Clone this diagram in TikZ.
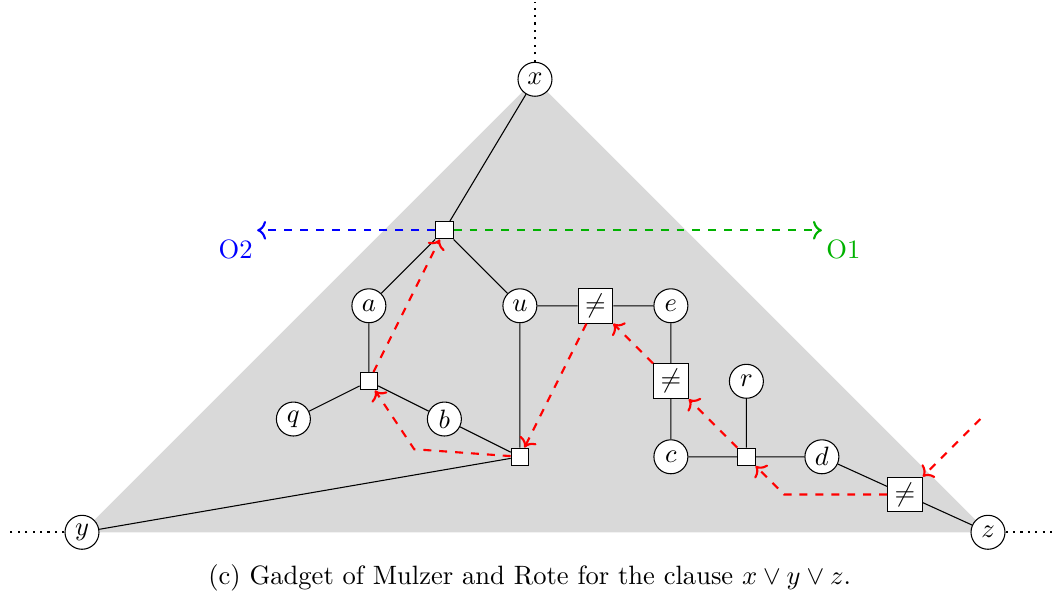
\documentclass[tikz,border=0pt]{standalone}
\usetikzlibrary{arrows.meta}
\begin{document}
\begin{tikzpicture}[
  vtx/.style={circle,draw,fill=white,minimum size=0.45cm,inner sep=0pt},
  sqr/.style={rectangle,draw,fill=white,minimum size=0.23cm,inner sep=0pt},
  neq/.style={rectangle,draw,fill=white,minimum size=0.46cm,inner sep=0pt},
  redarr/.style={red,dashed,thick,->},
  lbl/.style={inner xsep=1.5pt,inner ysep=3.4pt}
]
\useasboundingbox (-1.086,-0.82) rectangle (12.914,7.05);
\fill[gray!30] (6,6) -- (0,0) -- (12,0) -- cycle;
\node[vtx] (x) at (6,6) {$x$};
\node[vtx] (y) at (0,0) {$y$};
\node[vtx] (z) at (12,0) {$z$};
\node[sqr] (t) at (4.8,4) {};
\node[vtx] (a) at (3.8,3) {$a$};
\node[vtx] (u) at (5.8,3) {$u$};
\node[neq] (n1) at (6.8,3) {$\neq$};
\node[vtx] (e) at (7.8,3) {$e$};
\node[sqr] (s2) at (3.8,2) {};
\node[vtx] (q) at (2.8,1.5) {$q$};
\node[vtx] (b) at (4.8,1.5) {$b$};
\node[sqr] (s3) at (5.8,1) {};
\node[neq] (n2) at (7.8,2) {$\neq$};
\node[vtx] (r) at (8.8,2) {$r$};
\node[vtx] (c) at (7.8,1) {$c$};
\node[sqr] (s4) at (8.8,1) {};
\node[vtx] (d) at (9.8,1) {$d$};
\node[neq] (n3) at (10.9,0.5) {$\neq$};
\coordinate (top) at (6,7.02);
\coordinate (left) at (-0.98,0);
\coordinate (right) at (12.85,0);
\draw[dotted,thick] (x) -- (top);
\draw[dotted,thick] (y) -- (left);
\draw[dotted,thick] (z) -- (right);
\draw (x) -- (t) (t) -- (a) (t) -- (u) (a) -- (s2) (s2) -- (q) (s2) -- (b)
      (b) -- (s3) (u) -- (s3) (s3) -- (y) (u) -- (n1) (n1) -- (e) (e) -- (n2)
      (n2) -- (c) (c) -- (s4) (s4) -- (r) (s4) -- (d) (d) -- (n3) (n3) -- (z);
\coordinate (o2) at (2.32,4);
\coordinate (o1) at (9.8,4);
\draw[blue,dashed,thick,->] (t) -- (o2);
\draw[green!70!black,dashed,thick,->] (t) -- (o1);
\node[lbl,blue,anchor=north east] (lo2) at (o2) {O2};
\node[lbl,green!70!black,anchor=north west] (lo1) at (o1) {O1};
\coordinate (k1) at (4.4,1.1);
\coordinate (k2) at (9.3,0.5);
\coordinate (in) at (11.9,1.5);
\draw[redarr] (s2) -- (t);
\draw[redarr] (s3) -- (k1) -- (s2);
\draw[redarr] (n1) -- (s3);
\draw[redarr] (n2) -- (n1);
\draw[redarr] (s4) -- (n2);
\draw[redarr] (n3) -- (k2) -- (s4);
\draw[redarr] (in) -- (n3);
\node (cap) at (5.93,-0.61) {(c) Gadget of Mulzer and Rote for the clause $x \vee y \vee z$.};
\end{tikzpicture}
\end{document}
